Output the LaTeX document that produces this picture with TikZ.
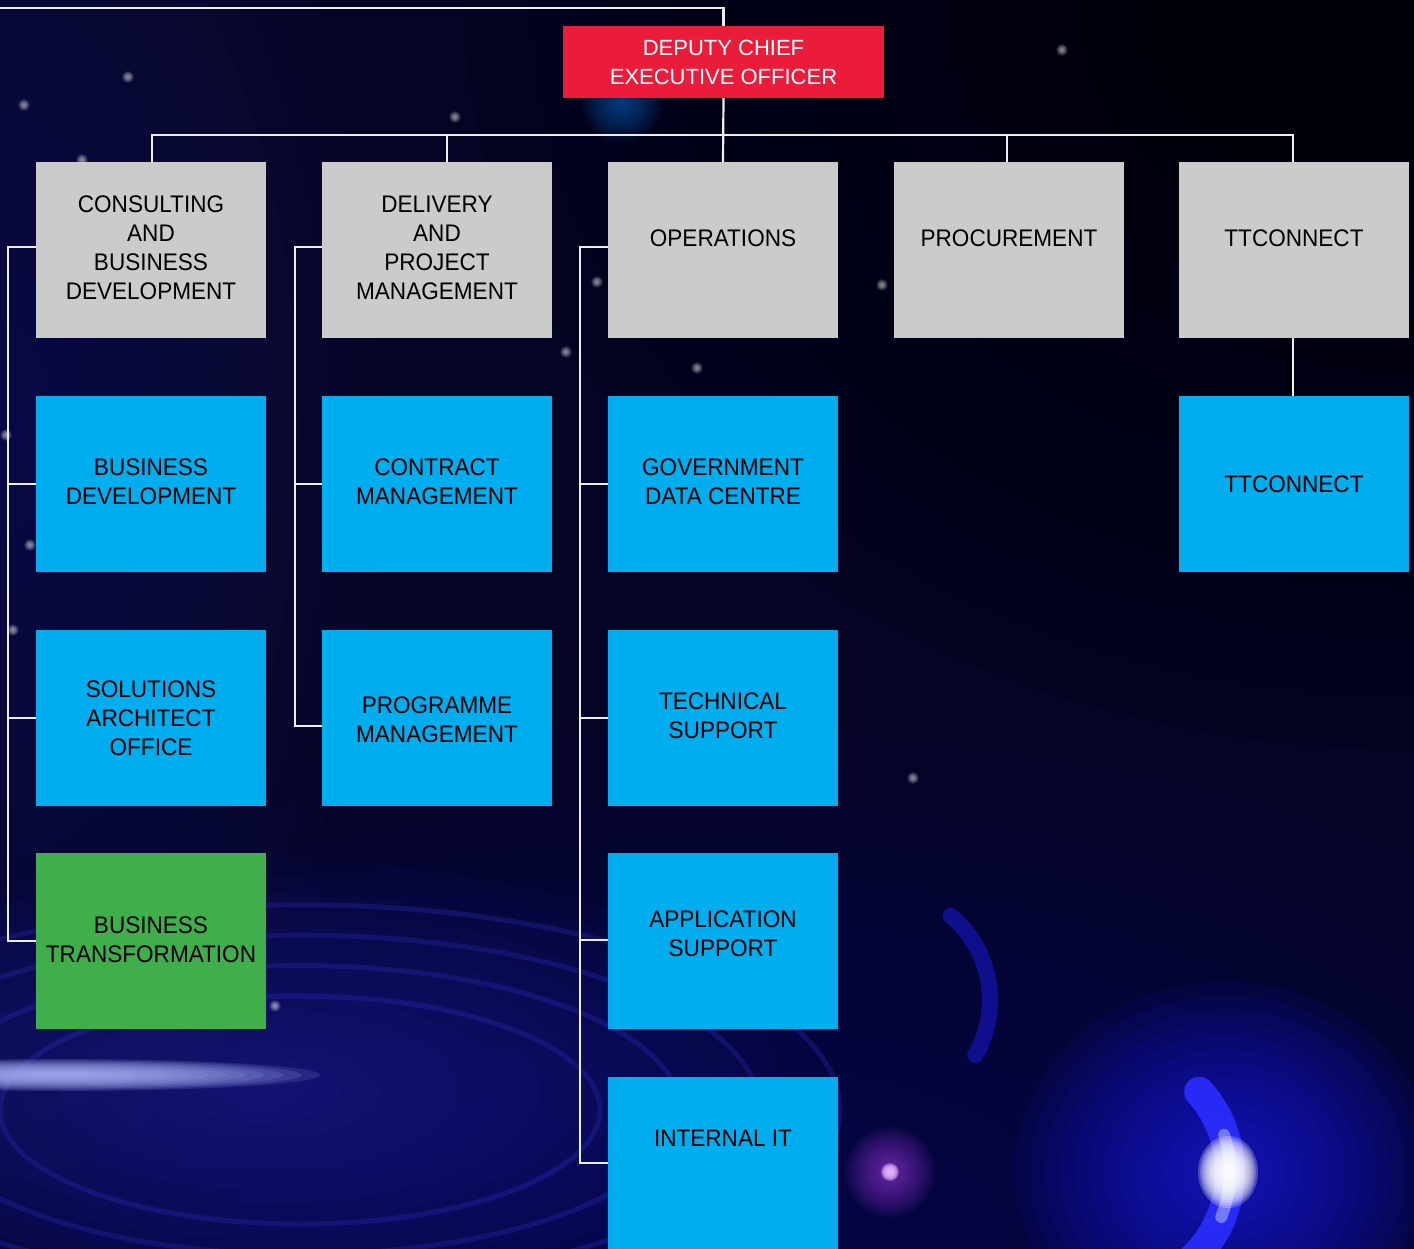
\documentclass[tikz,border=0pt]{standalone}
\usepackage{fontspec}
\setmainfont{Liberation Sans}
\newfontfamily\boxfont[FakeStretch=0.94]{Liberation Sans}
\definecolor{bgbase}{RGB}{4,4,36}
\definecolor{bgleft}{RGB}{24,24,100}
\definecolor{bgbottom}{RGB}{6,6,95}
\definecolor{bgring}{RGB}{45,45,190}
\definecolor{streak}{RGB}{175,185,255}
\definecolor{halo}{RGB}{30,30,245}
\definecolor{crescent}{RGB}{45,45,255}
\definecolor{pinkstar}{RGB}{190,70,255}
\definecolor{cyanglow}{RGB}{20,120,220}
\definecolor{boxred}{RGB}{234,28,58}
\definecolor{boxgray}{RGB}{203,203,203}
\definecolor{boxblue}{RGB}{0,173,238}
\definecolor{boxgreen}{RGB}{64,174,75}
\definecolor{linewhite}{RGB}{238,238,238}
\pgfdeclarelayer{back}
\pgfdeclarelayer{lines}
\pgfsetlayers{back,lines,main}
\newcommand{\myglow}[6]{%
  \foreach \k in {1,...,14}{\fill[#5, opacity=#6] (#1,#2) ellipse ({#3*\k/14} and {#4*\k/14});}}
\begin{document}
\begin{tikzpicture}[x=1pt,y=-1pt,
  box/.style={rectangle, minimum width=230pt, minimum height=176pt, inner sep=0pt,
    align=center, font=\boxfont\fontsize{24}{29}\selectfont, text=black},
  gbox/.style={box, fill=boxgray},
  bbox/.style={box, fill=boxblue},
  grbox/.style={box, fill=boxgreen},
  rbox/.style={rectangle, minimum width=321pt, minimum height=72pt, inner sep=0pt,
    align=center, fill=boxred, text=white, font=\fontsize{22}{29}\selectfont},
  lbl/.style={inner sep=0pt, align=center, font=\boxfont\fontsize{24}{29}\selectfont, text=black},
  conn/.style={draw=linewhite, line width=2.2pt, line join=miter}]
\useasboundingbox (0,0) rectangle (1414,1249);
\begin{pgfonlayer}{back}
  \fill[bgbase] (0,0) rectangle (1414,1249);
  \begin{scope}
    \clip (0,0) rectangle (1414,1249);
    \myglow{1414}{0}{950}{750}{black}{0.08}
    \myglow{0}{430}{380}{750}{bgleft}{0.06}
    \myglow{700}{1249}{1100}{520}{bgbottom}{0.07}
    \myglow{260}{1090}{560}{230}{bgring}{0.045}
    \foreach \r in {300,380,460,540}
      \draw[bgring, opacity=0.3, line width=5pt] (300,1110) ellipse ({\r} and {\r*0.38});
    \myglow{60}{1075}{260}{16}{streak}{0.14}
    \myglow{1225}{1172}{210}{190}{halo}{0.075}
    \draw[crescent, opacity=0.9, line width=30pt, line cap=round] (1110,1172) ++(-42:120) arc (-42:48:120);
    \draw[crescent!55!white, opacity=0.8, line width=12pt, line cap=round] (1110,1172) ++(-18:120) arc (-18:22:120);
    \myglow{1228}{1172}{30}{36}{white}{0.24}
    \draw[halo, opacity=0.45, line width=16pt, line cap=round] (880,1000) ++(-50:110) arc (-50:30:110);
    \myglow{890}{1172}{45}{45}{pinkstar}{0.05}
    \myglow{890}{1172}{9}{9}{pinkstar!40!white}{0.25}
    \myglow{622}{102}{40}{40}{cyanglow}{0.05}
    \foreach \sx/\sy in {24/105,128/77,82/160,13/630,30/545,6/435,455/117,697/368,597/282,566/352,882/285,1062/50,913/778,275/1006}
      {\myglow{\sx}{\sy}{6}{6}{white}{0.06}}
  \end{scope}
\end{pgfonlayer}

% boxes
\node[rbox] (dceo) at (723.5,62) {DEPUTY CHIEF\\EXECUTIVE OFFICER};

\node[gbox] (cab) at (151,250) {};
\node[lbl] (cabL) at (151,247.5) {CONSULTING\\AND\\BUSINESS\\DEVELOPMENT};
\node[gbox] (dpm) at (437,250) {};
\node[lbl] (dpmL) at (437,247.5) {DELIVERY\\AND\\PROJECT\\MANAGEMENT};
\node[gbox] (ops) at (723,250) {};
\node[lbl] (opsL) at (723,238) {OPERATIONS};
\node[gbox] (proc) at (1009,250) {};
\node[lbl] (procL) at (1009,238) {PROCUREMENT};
\node[gbox] (ttc) at (1294,250) {};
\node[lbl] (ttcL) at (1294,238) {TTCONNECT};

\node[bbox] (bd) at (151,484) {};
\node[lbl] (bdL) at (151,481.5) {BUSINESS\\DEVELOPMENT};
\node[bbox] (cm) at (437,484) {};
\node[lbl] (cmL) at (437,481.5) {CONTRACT\\MANAGEMENT};
\node[bbox] (gdc) at (723,484) {};
\node[lbl] (gdcL) at (723,481.5) {GOVERNMENT\\DATA CENTRE};
\node[bbox] (ttc2) at (1294,484) {TTCONNECT};

\node[bbox] (sao) at (151,718) {SOLUTIONS\\ARCHITECT\\OFFICE};
\node[bbox] (pm) at (437,718) {};
\node[lbl] (pmL) at (437,719.5) {PROGRAMME\\MANAGEMENT};
\node[bbox] (ts) at (723,718) {};
\node[lbl] (tsL) at (723,715.5) {TECHNICAL\\SUPPORT};

\node[grbox] (bt) at (151,941) {};
\node[lbl] (btL) at (151,939.5) {BUSINESS\\TRANSFORMATION};
\node[bbox] (as) at (723,941) {};
\node[lbl] (asL) at (723,933.5) {APPLICATION\\SUPPORT};

\node[bbox] (iit) at (723,1165) {};
\node[lbl] (iitL) at (723,1138) {INTERNAL IT};

% connectors
\coordinate (topL) at (0,8);
\coordinate (bus) at (723.5,135);
\coordinate (s1) at (8,600);
\coordinate (s2) at (295,500);
\coordinate (s3) at (580,600);
\begin{pgfonlayer}{lines}
  \draw[conn] (topL) -| (dceo.north);
  \draw[conn] (dceo.south) -- (ops.north);
  \draw[conn] ([xshift=1pt]cab.north) |- (bus) -| ([xshift=-1pt]ttc.north);
  \draw[conn] ([xshift=10pt]dpm.north) -- ([xshift=10pt]dpm.north |- bus);
  \draw[conn] ([xshift=-2pt]proc.north) -- ([xshift=-2pt]proc.north |- bus);
  \draw[conn] ([xshift=-1pt]ttc.south) -- ([xshift=-1pt]ttc2.north);

  \draw[conn] ([yshift=3pt]cab.west) -| (s1) |- (bt.west);
  \draw[conn] (bd.west) -- (bd.west -| s1);
  \draw[conn] (sao.west) -- (sao.west -| s1);

  \draw[conn] ([yshift=3pt]dpm.west) -| (s2) |- ([yshift=-8pt]pm.west);
  \draw[conn] (cm.west) -- (cm.west -| s2);

  \draw[conn] ([yshift=3pt]ops.west) -| (s3) |- ([yshift=2pt]iit.west);
  \draw[conn] (gdc.west) -- (gdc.west -| s3);
  \draw[conn] (ts.west) -- (ts.west -| s3);
  \draw[conn] ([yshift=1pt]as.west) -- ([yshift=1pt]as.west -| s3);
\end{pgfonlayer}
\end{tikzpicture}
\end{document}
